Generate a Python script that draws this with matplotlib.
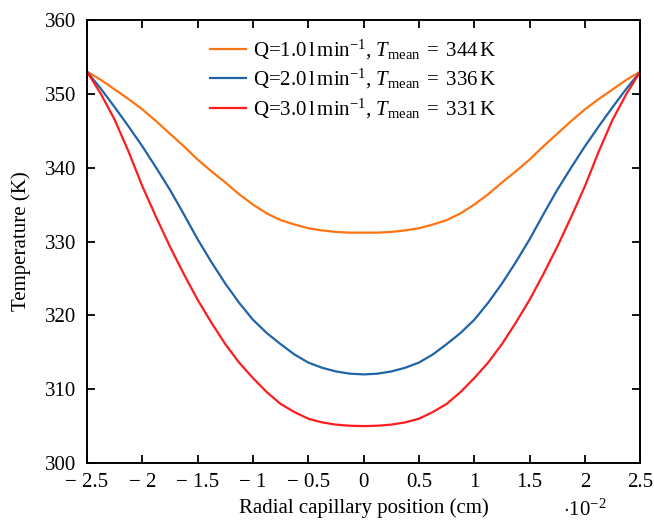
import matplotlib
matplotlib.use("Agg")
import matplotlib.pyplot as plt

plt.rcParams["font.family"] = "Liberation Serif"
plt.rcParams["mathtext.fontset"] = "custom"
plt.rcParams["mathtext.rm"] = "Liberation Serif"
plt.rcParams["mathtext.it"] = "Liberation Serif:italic"
plt.rcParams["font.size"] = 15

# Radial position (x 10^-2 cm)
x = [-2.5, -2.375, -2.25, -2.125, -2.0, -1.875, -1.75, -1.625, -1.5, -1.375, -1.25,
     -1.125, -1.0, -0.875, -0.75, -0.625, -0.5, -0.375, -0.25, -0.125, 0.0,
     0.125, 0.25, 0.375, 0.5, 0.625, 0.75, 0.875, 1.0, 1.125, 1.25,
     1.375, 1.5, 1.625, 1.75, 1.875, 2.0, 2.125, 2.25, 2.375, 2.5]

# Temperature profiles (K)
t_q1 = [353.0, 351.9, 350.6, 349.3, 347.9, 346.3, 344.6, 342.9, 341.1, 339.5, 338.0,
        336.4, 335.0, 333.8, 332.9, 332.3, 331.8, 331.5, 331.3, 331.2, 331.2,
        331.2, 331.3, 331.5, 331.8, 332.3, 332.9, 333.8, 335.0, 336.4, 338.0,
        339.5, 341.1, 342.9, 344.6, 346.3, 347.9, 349.3, 350.6, 351.9, 353.0]
t_q2 = [353.0, 350.7, 348.2, 345.6, 342.9, 340.0, 337.0, 333.7, 330.3, 327.2, 324.3,
        321.7, 319.4, 317.6, 316.1, 314.7, 313.6, 312.9, 312.4, 312.1, 312.0,
        312.1, 312.4, 312.9, 313.6, 314.7, 316.1, 317.6, 319.4, 321.7, 324.3,
        327.2, 330.3, 333.7, 337.0, 340.0, 342.9, 345.6, 348.2, 350.7, 353.0]
t_q3 = [353.0, 350.0, 346.5, 342.2, 337.5, 333.3, 329.3, 325.6, 322.1, 319.0, 316.1,
        313.6, 311.5, 309.6, 308.0, 306.9, 306.0, 305.5, 305.2, 305.05, 305.0,
        305.05, 305.2, 305.5, 306.0, 306.9, 308.0, 309.6, 311.5, 313.6, 316.1,
        319.0, 322.1, 325.6, 329.3, 333.3, 337.5, 342.2, 346.5, 350.0, 353.0]

labels = [
    r"Q=1.0$\,$l$\,$min$^{-1}$, $T_{\mathrm{mean}}\;=\;344\,\mathrm{K}$",
    r"Q=2.0$\,$l$\,$min$^{-1}$, $T_{\mathrm{mean}}\;=\;336\,\mathrm{K}$",
    r"Q=3.0$\,$l$\,$min$^{-1}$, $T_{\mathrm{mean}}\;=\;331\,\mathrm{K}$",
]
colors = ["#ff7412", "#1f64a6", "#fe1c1c"]
xticks = [-2.5, -2, -1.5, -1, -0.5, 0, 0.5, 1, 1.5, 2, 2.5]
xticklabels = ["\u2212 2.5", "\u2212 2", "\u2212 1.5", "\u2212 1", "\u2212 0.5", "0",
               "0.5", "1", "1.5", "2", "2.5"]

fig = plt.figure(figsize=(6.54, 5.21), dpi=100)
ax = fig.add_axes([0.133, 0.1113, 0.846, 0.8503])

for t, lab, c in zip([t_q1, t_q2, t_q3], labels, colors):
    ax.plot(x, t, color=c, lw=1.6, label=lab)

ax.set_xlim(-2.5, 2.5)
ax.set_ylim(300, 360)
ax.set_xticks(xticks)
ax.set_xticklabels(xticklabels)
ax.set_yticks(range(300, 361, 10))
ax.tick_params(direction="in", top=True, right=True, length=6, width=1.3)
ax.tick_params(axis="y", pad=8)
ax.tick_params(axis="x", pad=7)
for s in ax.spines.values():
    s.set_linewidth(1.4)

ax.set_xlabel("Radial capillary position (cm)", labelpad=5)
ax.set_ylabel("Temperature (K)", labelpad=10)
fig.text(0.861, 0.0, r"$\cdot 10^{-2}$", fontsize=15, ha="left", va="bottom")

ax.legend(loc="upper left", bbox_to_anchor=(0.321, 0.928), bbox_transform=fig.transFigure,
          frameon=False, handlelength=1.75, handletextpad=0.3,
          labelspacing=0.26, borderaxespad=0.0, borderpad=0.0)

fig.savefig("out.png", dpi=100)
